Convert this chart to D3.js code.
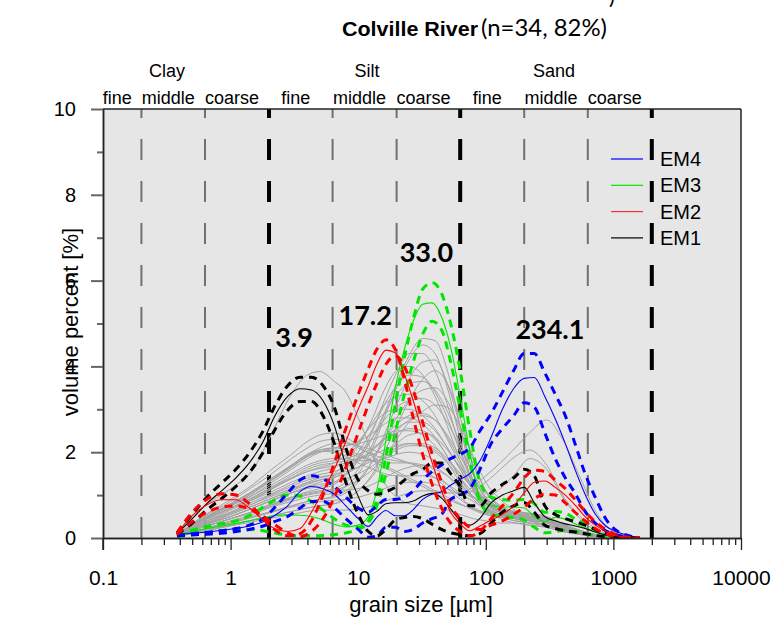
<!DOCTYPE html>
<html><head><meta charset="utf-8">
<script src="https://cdn.jsdelivr.net/npm/d3@7"></script>
<style>
body{margin:0;background:#fff;}
svg{display:block;font-family:"Liberation Sans",Arial,sans-serif;}
</style></head><body>
<svg id="chart" width="778" height="621"></svg>
<script>
// ---------- axis / class data ----------
const xTicks=[0.1,1,10,100,1000,10000];
const xTickLabels=["0.1","1","10","100","1000","10000"];
const yTicks=[0,2,4,6,8,10];
const yMinorTicks=[1,3,5,7,9];
const classBounds=[0.2,0.63,2,6.3,20,63,200,630,2000];
const classHeavy=[false,false,true,false,false,true,false,false,true];
const subEdges=[0.1,0.2,0.63,2,6.3,20,63,200,630,2000];
const subLabels=["fine","middle","coarse","fine","middle","coarse","fine","middle","coarse"];
const mainLabels=["Clay","Silt","Sand"];
const peakLabels=["3.9","17.2","33.0","234.1"];
const peakSizes=[3.9,17.2,33.0,234.1];
const legendNames=["EM4","EM3","EM2","EM1"];

// ---------- gray sample curves (34 samples) ----------
const graySizes=[0.4,0.6,1,1.5,2,3,4,5,6.5,8,10,13,16,20,25,32,40,50,63,80,100,130,170,220,300,400,550,750,1000,1400];
const s01=[0.1,0.7,1.15,1.6,2.3,3.35,3.8,3.88,3.65,3.4,2.8,1.95,1.3,0.95,0.8,0.75,0.7,0.65,0.55,0.45,0.4,0.35,0.35,0.3,0.25,0.15,0.08,0.03,0.01,0];
const s02=[0.08,0.25,0.45,0.6,0.75,0.95,1.05,1.1,1.15,1.3,1.6,2.2,2.9,3.6,4.25,4.65,4.6,3.9,2.6,1.3,0.7,0.45,0.35,0.3,0.25,0.15,0.08,0.03,0.01,0];
const s03=[0.07,0.2,0.4,0.55,0.7,0.85,0.95,1.0,1.05,1.2,1.5,2.1,2.8,3.5,4.15,4.5,4.3,3.5,2.3,1.2,0.7,0.5,0.4,0.35,0.3,0.2,0.1,0.04,0.01,0];
const s04=[0.1,0.3,0.5,0.7,0.85,1.05,1.15,1.2,1.3,1.5,1.85,2.5,3.2,3.85,4.3,4.3,3.9,3.1,2.1,1.2,0.75,0.55,0.45,0.4,0.3,0.2,0.1,0.04,0.01,0];
const s05=[0.06,0.2,0.35,0.5,0.6,0.75,0.85,0.9,0.95,1.05,1.3,1.8,2.4,3.1,3.7,4.1,4.15,3.6,2.6,1.5,0.9,0.6,0.45,0.35,0.28,0.18,0.09,0.03,0.01,0];
const s06=[0.1,0.35,0.6,0.8,0.95,1.15,1.3,1.4,1.5,1.75,2.15,2.8,3.45,3.9,4.0,3.8,3.3,2.6,1.8,1.1,0.7,0.5,0.4,0.35,0.3,0.2,0.1,0.04,0.01,0];
const s07=[0.05,0.18,0.3,0.42,0.5,0.62,0.7,0.75,0.8,0.9,1.1,1.5,2.0,2.6,3.2,3.7,3.9,3.6,2.8,1.8,1.1,0.7,0.5,0.4,0.3,0.2,0.1,0.04,0.01,0];
const s08=[0.1,0.3,0.55,0.75,0.9,1.1,1.25,1.35,1.45,1.65,2.0,2.55,3.1,3.55,3.8,3.75,3.4,2.8,2.0,1.3,0.85,0.6,0.45,0.4,0.35,0.22,0.12,0.05,0.01,0];
const s09=[0.08,0.25,0.45,0.62,0.78,0.95,1.08,1.15,1.25,1.45,1.8,2.35,2.9,3.35,3.6,3.65,3.45,2.95,2.2,1.45,0.95,0.65,0.5,0.42,0.35,0.22,0.12,0.05,0.01,0];
const s10=[0.06,0.2,0.38,0.5,0.6,0.75,0.85,0.9,0.98,1.1,1.35,1.8,2.3,2.8,3.2,3.45,3.5,3.2,2.5,1.7,1.1,0.75,0.55,0.45,0.35,0.22,0.12,0.05,0.01,0];
const s11=[0.12,0.4,0.7,0.9,1.05,1.3,1.45,1.55,1.65,1.85,2.2,2.7,3.1,3.3,3.35,3.2,2.85,2.3,1.7,1.15,0.8,0.6,0.5,0.45,0.38,0.25,0.13,0.05,0.01,0];
const s12=[0.1,0.3,0.5,0.7,0.85,1.05,1.2,1.3,1.4,1.6,1.9,2.35,2.75,3.05,3.2,3.25,3.1,2.7,2.1,1.5,1.05,0.75,0.6,0.5,0.4,0.25,0.13,0.05,0.01,0];
const s13=[0.05,0.15,0.3,0.42,0.5,0.62,0.7,0.75,0.8,0.9,1.1,1.45,1.85,2.3,2.7,2.95,3.1,3.05,2.6,1.9,1.3,0.9,0.65,0.55,0.45,0.3,0.15,0.06,0.02,0];
const s14=[0.12,0.4,0.7,0.95,1.15,1.4,1.55,1.65,1.75,1.95,2.25,2.65,2.9,3.0,3.0,2.85,2.55,2.1,1.6,1.15,0.85,0.65,0.55,0.5,0.42,0.28,0.15,0.06,0.02,0];
const s15=[0.12,0.45,0.8,1.1,1.35,1.7,1.95,2.05,2.1,2.15,2.25,2.45,2.65,2.8,2.8,2.65,2.35,1.9,1.4,0.95,0.7,0.55,0.5,0.45,0.4,0.28,0.15,0.06,0.02,0];
const s16=[0.12,0.45,0.75,1.0,1.25,1.6,1.85,2.0,2.1,2.15,2.2,2.3,2.4,2.5,2.5,2.4,2.15,1.75,1.3,0.9,0.65,0.5,0.45,0.42,0.38,0.25,0.13,0.05,0.02,0];
const s17=[0.1,0.4,0.7,0.95,1.15,1.45,1.65,1.75,1.8,1.85,1.95,2.1,2.3,2.45,2.55,2.5,2.3,1.9,1.4,0.95,0.7,0.55,0.48,0.45,0.4,0.27,0.14,0.06,0.02,0];
const s18=[0.1,0.35,0.65,0.9,1.1,1.4,1.6,1.7,1.75,1.8,1.85,1.95,2.05,2.15,2.2,2.15,2.0,1.75,1.4,1.05,0.8,0.65,0.58,0.55,0.48,0.32,0.17,0.07,0.02,0];
const s19=[0.12,0.42,0.75,1.0,1.2,1.5,1.7,1.8,1.85,1.85,1.8,1.8,1.85,1.95,2.0,1.95,1.8,1.55,1.25,0.95,0.75,0.62,0.55,0.5,0.45,0.3,0.16,0.06,0.02,0];
const s20=[0.1,0.38,0.68,0.92,1.12,1.38,1.55,1.62,1.68,1.75,1.85,2.05,2.3,2.55,2.7,2.7,2.5,2.1,1.6,1.1,0.8,0.6,0.5,0.45,0.4,0.27,0.14,0.06,0.02,0];
const s21=[0.1,0.35,0.6,0.85,1.0,1.25,1.4,1.48,1.55,1.65,1.8,2.05,2.35,2.65,2.85,2.9,2.75,2.35,1.8,1.25,0.88,0.65,0.52,0.46,0.4,0.26,0.14,0.05,0.02,0];
const s22=[0.08,0.3,0.55,0.75,0.9,1.12,1.28,1.35,1.42,1.5,1.65,1.9,2.2,2.5,2.75,2.85,2.75,2.4,1.9,1.35,0.95,0.7,0.55,0.48,0.42,0.28,0.15,0.06,0.02,0];
const s23=[0.12,0.42,0.78,1.05,1.3,1.65,1.9,2.0,2.05,2.0,1.9,1.8,1.75,1.75,1.75,1.7,1.6,1.45,1.2,0.95,0.78,0.65,0.58,0.55,0.48,0.32,0.17,0.07,0.02,0];
const s24=[0.09,0.32,0.58,0.8,0.98,1.2,1.35,1.42,1.48,1.55,1.65,1.8,1.95,2.1,2.2,2.2,2.1,1.85,1.5,1.15,0.88,0.7,0.6,0.55,0.48,0.32,0.17,0.07,0.02,0];
const s25=[0.08,0.28,0.5,0.7,0.85,1.05,1.18,1.25,1.3,1.38,1.5,1.68,1.88,2.05,2.15,2.15,2.05,1.8,1.5,1.15,0.9,0.72,0.62,0.58,0.5,0.33,0.18,0.07,0.02,0];
const s26=[0.07,0.25,0.45,0.62,0.75,0.92,1.02,1.08,1.12,1.2,1.35,1.6,1.9,2.2,2.4,2.45,2.35,2.05,1.65,1.2,0.9,0.7,0.58,0.52,0.45,0.3,0.16,0.06,0.02,0];
const s27=[0.12,0.5,0.9,1.25,1.55,1.95,2.25,2.4,2.45,2.35,2.15,1.9,1.7,1.55,1.4,1.25,1.1,0.95,0.8,0.65,0.55,0.5,0.48,0.45,0.4,0.27,0.14,0.05,0.02,0];
const s28=[0.12,0.48,0.85,1.2,1.45,1.85,2.1,2.25,2.3,2.25,2.1,1.95,1.85,1.8,1.75,1.65,1.5,1.25,0.95,0.7,0.55,0.48,0.45,0.42,0.38,0.25,0.13,0.05,0.02,0];
const s29=[0.12,0.45,0.8,1.1,1.35,1.7,1.95,2.1,2.2,2.2,2.15,2.05,1.95,1.85,1.75,1.6,1.4,1.15,0.9,0.7,0.58,0.52,0.5,0.48,0.42,0.28,0.15,0.06,0.02,0];
const s30=[0.1,0.42,0.75,1.05,1.3,1.65,1.9,2.05,2.1,2.05,1.95,1.8,1.65,1.5,1.35,1.2,1.05,0.9,0.78,0.68,0.6,0.55,0.5,0.48,0.42,0.28,0.15,0.06,0.02,0];
const s31=[0.11,0.44,0.78,1.08,1.32,1.68,1.92,2.02,2.0,1.9,1.75,1.6,1.5,1.45,1.45,1.45,1.4,1.25,1.05,0.85,0.7,0.6,0.55,0.5,0.45,0.3,0.16,0.06,0.02,0];
const s32=[0.05,0.15,0.28,0.38,0.45,0.55,0.62,0.65,0.65,0.65,0.68,0.75,0.85,0.95,1.05,1.1,1.1,1.05,1.05,1.2,1.45,1.75,2.1,2.45,2.75,2.3,1.4,0.55,0.15,0];
const s33=[0.06,0.2,0.35,0.48,0.58,0.72,0.8,0.85,0.88,0.9,0.95,1.05,1.15,1.25,1.3,1.3,1.25,1.15,1.05,1.1,1.3,1.6,1.9,2.05,1.7,1.0,0.5,0.2,0.05,0];
const s34=[0.08,0.25,0.45,0.6,0.72,0.9,1.0,1.05,1.1,1.12,1.15,1.25,1.4,1.55,1.65,1.7,1.65,1.45,1.15,0.95,0.95,1.15,1.5,1.85,1.6,0.95,0.45,0.15,0.04,0];
const graySamples=[s01,s02,s03,s04,s05,s06,s07,s08,s09,s10,s11,s12,s13,s14,s15,s16,s17,s18,s19,s20,s21,s22,s23,s24,s25,s26,s27,s28,s29,s30,s31,s32,s33,s34];

// ---------- end members (mean + two bounds) ----------
const emSizes=[0.38,0.5,0.65,0.85,1.1,1.4,1.8,2.2,2.8,3.5,4.3,5.3,6.5,8,10,12,14,16.5,19.5,23,27,32,38,45,53,63,75,90,110,135,165,200,240,290,350,420,500,600,720,870,1050,1300,1600];
const em1  =[0.1,0.45,0.8,1.1,1.4,1.75,2.25,2.82,3.3,3.48,3.45,3.2,2.62,1.7,0.97,0.54,0.62,0.8,0.82,0.82,0.86,0.98,1.04,0.93,0.68,0.4,0.3,0.46,0.82,1.0,1.1,1.18,0.82,0.5,0.4,0.33,0.28,0.22,0.14,0.07,0.03,0.01,0];
const em1Hi=[0.12,0.55,0.95,1.28,1.6,1.98,2.5,3.05,3.55,3.75,3.75,3.55,3.05,2.1,1.35,1.1,1.02,1.08,1.18,1.35,1.5,1.6,1.75,1.75,1.5,1.2,0.75,0.75,1.05,1.25,1.4,1.6,1.45,0.75,0.55,0.45,0.38,0.3,0.2,0.1,0.04,0.01,0];
const em1Lo=[0.08,0.35,0.65,0.92,1.2,1.52,2.0,2.5,2.98,3.18,3.18,2.85,2.2,1.3,0.55,0.15,0.05,0.2,0.42,0.48,0.5,0.45,0.32,0.2,0.12,0.08,0.05,0.1,0.35,0.6,0.75,0.82,0.6,0.3,0.22,0.17,0.14,0.1,0.06,0.03,0.01,0,0];
const em2  =[0.1,0.52,0.77,0.89,0.89,0.7,0.42,0.22,0.15,0.22,0.6,1.1,1.6,2.25,3.0,3.55,4.05,4.38,4.32,3.82,3.2,2.45,1.75,1.1,0.6,0.33,0.17,0.28,0.42,0.55,0.75,1.05,1.3,1.33,1.18,1.0,0.77,0.5,0.3,0.16,0.06,0.01,0];
const em2Hi=[0.12,0.6,0.9,1.03,1.0,0.8,0.45,0.2,0.05,0.1,0.4,1.0,1.75,2.55,3.35,3.95,4.4,4.62,4.4,3.7,2.8,1.95,1.25,0.7,0.35,0.15,0.05,0.15,0.45,0.75,1.05,1.4,1.58,1.55,1.35,1.15,0.9,0.62,0.38,0.2,0.08,0.02,0];
const em2Lo=[0.08,0.38,0.6,0.72,0.75,0.68,0.5,0.32,0.12,0.03,0.15,0.45,0.95,1.65,2.45,3.1,3.6,4.05,4.25,4.0,3.45,2.7,1.95,1.3,0.75,0.45,0.25,0.2,0.3,0.4,0.55,0.72,0.92,1.02,1.0,0.82,0.6,0.4,0.22,0.1,0.03,0,0];
const em3  =[0.08,0.15,0.22,0.28,0.34,0.4,0.47,0.52,0.54,0.53,0.5,0.42,0.32,0.26,0.3,0.5,1.12,2.28,3.5,4.4,5.05,5.45,5.48,5.15,4.45,3.3,2.0,0.95,0.76,0.73,0.72,0.7,0.5,0.38,0.48,0.44,0.33,0.24,0.15,0.08,0.03,0.01,0];
const em3Hi=[0.05,0.18,0.27,0.33,0.4,0.52,0.72,0.88,1.0,0.98,0.85,0.65,0.45,0.3,0.25,0.4,0.9,1.9,3.1,4.2,5.1,5.8,5.95,5.7,5.0,3.9,2.5,1.3,0.95,0.9,0.88,0.9,0.8,0.6,0.62,0.58,0.45,0.33,0.2,0.1,0.04,0.01,0];
const em3Lo=[0.03,0.08,0.13,0.17,0.2,0.2,0.17,0.12,0.07,0.05,0.05,0.06,0.08,0.12,0.2,0.35,0.75,1.5,2.45,3.35,4.1,4.75,5.05,4.85,4.1,3.0,1.8,0.85,0.55,0.5,0.48,0.42,0.25,0.12,0.15,0.18,0.15,0.1,0.06,0.03,0.01,0,0];
const em4  =[0.08,0.11,0.14,0.18,0.22,0.28,0.38,0.52,0.75,1.08,1.2,1.15,1.02,0.75,0.45,0.27,0.48,0.64,0.52,0.52,0.66,0.9,1.02,1.08,1.23,1.37,1.5,1.8,2.35,3.0,3.48,3.72,3.74,3.3,2.78,2.2,1.6,1.02,0.56,0.28,0.15,0.06,0];
const em4Hi=[0.06,0.1,0.13,0.17,0.22,0.3,0.45,0.7,1.05,1.35,1.45,1.38,1.2,0.95,0.7,0.6,0.75,0.9,0.9,0.95,1.1,1.35,1.55,1.7,1.85,1.95,2.1,2.5,2.9,3.4,3.9,4.3,4.3,3.85,3.35,2.85,2.2,1.5,0.95,0.45,0.18,0.06,0];
const em4Lo=[0.05,0.07,0.09,0.11,0.15,0.2,0.28,0.38,0.5,0.7,0.85,0.85,0.7,0.45,0.2,0.02,0.05,0.25,0.25,0.15,0.2,0.35,0.45,0.55,0.9,1.0,1.15,1.6,2.2,2.55,2.85,3.15,3.05,2.45,1.85,1.4,1.05,0.62,0.35,0.17,0.08,0.02,0];

// ---------- drawing ----------
const svg=d3.select("#chart");
const x=d3.scaleLog().domain([0.1,10000]).range([103,741]);
const y=d3.scaleLinear().domain([0,10]).range([538,109]);
const X0=x.range()[0],X1=x.range()[1],Y0=y.range()[0],Y1=y.range()[1];

svg.append("rect").attr("x",X0).attr("y",Y1).attr("width",X1-X0).attr("height",Y0-Y1).attr("fill","#e6e6e6");

svg.append("defs").append("clipPath").attr("id","plotclip").append("rect")
  .attr("x",X0).attr("y",Y1).attr("width",X1-X0).attr("height",Y0-Y1);

// class boundary lines
classBounds.forEach((b,i)=>{
  svg.append("line").attr("x1",x(b)).attr("x2",x(b)).attr("y1",Y0).attr("y2",Y1)
    .attr("stroke",classHeavy[i]?"#000":"#707070")
    .attr("stroke-width",classHeavy[i]?4:2)
    .attr("stroke-dasharray","21,21");
});

const plot=svg.append("g").attr("clip-path","url(#plotclip)");
const line=d3.line().x(d=>x(d[0])).y(d=>y(d[1])).curve(d3.curveMonotoneX);
const pairs=(sizes,vals)=>sizes.map((s,i)=>[s,vals[i]]);

graySamples.forEach(v=>{
  plot.append("path").attr("d",line(pairs(graySizes,v))).attr("fill","none")
    .attr("stroke","#a3a3a3").attr("stroke-width",1);
});

const emSets=[
  {c:"#00e600",m:em3,hi:em3Hi,lo:em3Lo},
  {c:"#0000ff",m:em4,hi:em4Hi,lo:em4Lo},
  {c:"#000000",m:em1,hi:em1Hi,lo:em1Lo},
  {c:"#ff0000",m:em2,hi:em2Hi,lo:em2Lo}
];
emSets.forEach(e=>{
  [e.hi,e.lo].forEach(v=>{
    plot.append("path").attr("d",line(pairs(emSizes,v))).attr("fill","none")
      .attr("stroke",e.c).attr("stroke-width",3).attr("stroke-dasharray","8,6");
  });
  plot.append("path").attr("d",line(pairs(emSizes,e.m))).attr("fill","none")
    .attr("stroke",e.c).attr("stroke-width",1.1);
});

// frame
svg.append("line").attr("x1",X0).attr("x2",X1).attr("y1",Y1).attr("y2",Y1).attr("stroke","#222").attr("stroke-width",1.5);
svg.append("line").attr("x1",X1).attr("x2",X1).attr("y1",Y1).attr("y2",Y0).attr("stroke","#222").attr("stroke-width",1.5);

// axes
const xMinor=[];
for(let p=-1;p<4;p++){for(let k=2;k<10;k++){xMinor.push(k*Math.pow(10,p));}}
const gxm=svg.append("g").attr("transform",`translate(0,${Y0})`)
  .call(d3.axisBottom(x).tickValues(xMinor).tickSize(7).tickFormat("").tickSizeOuter(0));
const gx=svg.append("g").attr("transform",`translate(0,${Y0})`)
  .call(d3.axisBottom(x).tickValues(xTicks).tickSize(12).tickPadding(20).tickSizeOuter(0)
    .tickFormat((d,i)=>xTickLabels[i]));
[gx,gxm].forEach(g=>{g.select(".domain").attr("stroke","#222").attr("stroke-width",1.5);
  g.selectAll(".tick line").attr("stroke","#222").attr("stroke-width",1.3);});
gx.selectAll(".tick text").attr("font-size",21).attr("font-family","Liberation Sans, Arial, sans-serif").attr("fill","#000");

const gym=svg.append("g").attr("transform",`translate(${X0},0)`)
  .call(d3.axisLeft(y).tickValues(yMinorTicks).tickSize(6).tickFormat("").tickSizeOuter(0));
const gy=svg.append("g").attr("transform",`translate(${X0},0)`)
  .call(d3.axisLeft(y).tickValues(yTicks).tickSize(12).tickPadding(15).tickSizeOuter(0));
[gy,gym].forEach(g=>{g.select(".domain").attr("stroke","#222").attr("stroke-width",1.5);
  g.selectAll(".tick line").attr("stroke","#666").attr("stroke-width",2);});
gy.selectAll(".tick text").attr("font-size",20).attr("font-family","Liberation Sans, Arial, sans-serif").attr("fill","#000");
svg.append("line").attr("x1",X0).attr("x2",X0).attr("y1",Y0).attr("y2",Y0+12).attr("stroke","#222").attr("stroke-width",1.5);

// axis titles
svg.append("text").attr("x",421).attr("y",612).attr("text-anchor","middle").attr("font-size",22).text("grain size [µm]");
svg.append("text").attr("transform","translate(78,322) rotate(-90)").attr("text-anchor","middle").attr("font-size",22).text("volume percent [%]");

// class labels
subLabels.forEach((t,i)=>{
  const gm=Math.sqrt(subEdges[i]*subEdges[i+1]);
  svg.append("text").attr("x",x(gm)-5).attr("y",104).attr("text-anchor","middle").attr("font-size",18).text(t);
});
const mainLabelX=[167,367,554];
mainLabels.forEach((t,i)=>{
  svg.append("text").attr("x",mainLabelX[i]).attr("y",77).attr("text-anchor","middle").attr("font-size",18).text(t);
});

// title
svg.append("text").attr("x",342).attr("y",36).attr("font-weight","bold").attr("font-size",20)
  .attr("textLength",136).attr("lengthAdjust","spacingAndGlyphs").text("Colville River");
svg.append("text").attr("x",481).attr("y",36).attr("font-family","Lato, 'Open Sans', sans-serif").attr("font-size",23)
  .attr("textLength",126).attr("lengthAdjust","spacingAndGlyphs").text("(n=34, 82%)");
svg.append("text").attr("x",609).attr("y",4).attr("font-family","Lato, sans-serif").attr("font-size",22).text(")");

// peak labels
const peakDx=[-12,-23,2,17];
peakLabels.forEach((t,i)=>{
  svg.append("text").attr("x",x(peakSizes[i])+peakDx[i]).attr("y",[347,325,262,339][i])
    .attr("text-anchor","middle").attr("font-family","Lato, 'Open Sans', sans-serif")
    .attr("font-weight","bold").attr("font-size",27).text(t);
});

// legend
const legColors=["#0000ff","#00e600","#ff3030","#000000"];
legendNames.forEach((t,i)=>{
  const ly=159+i*26.3;
  svg.append("line").attr("x1",611).attr("x2",643).attr("y1",ly).attr("y2",ly).attr("stroke",legColors[i]).attr("stroke-width",1.2);
  svg.append("text").attr("x",660).attr("y",ly+7).attr("font-size",20).text(t);
});
</script></body></html>
